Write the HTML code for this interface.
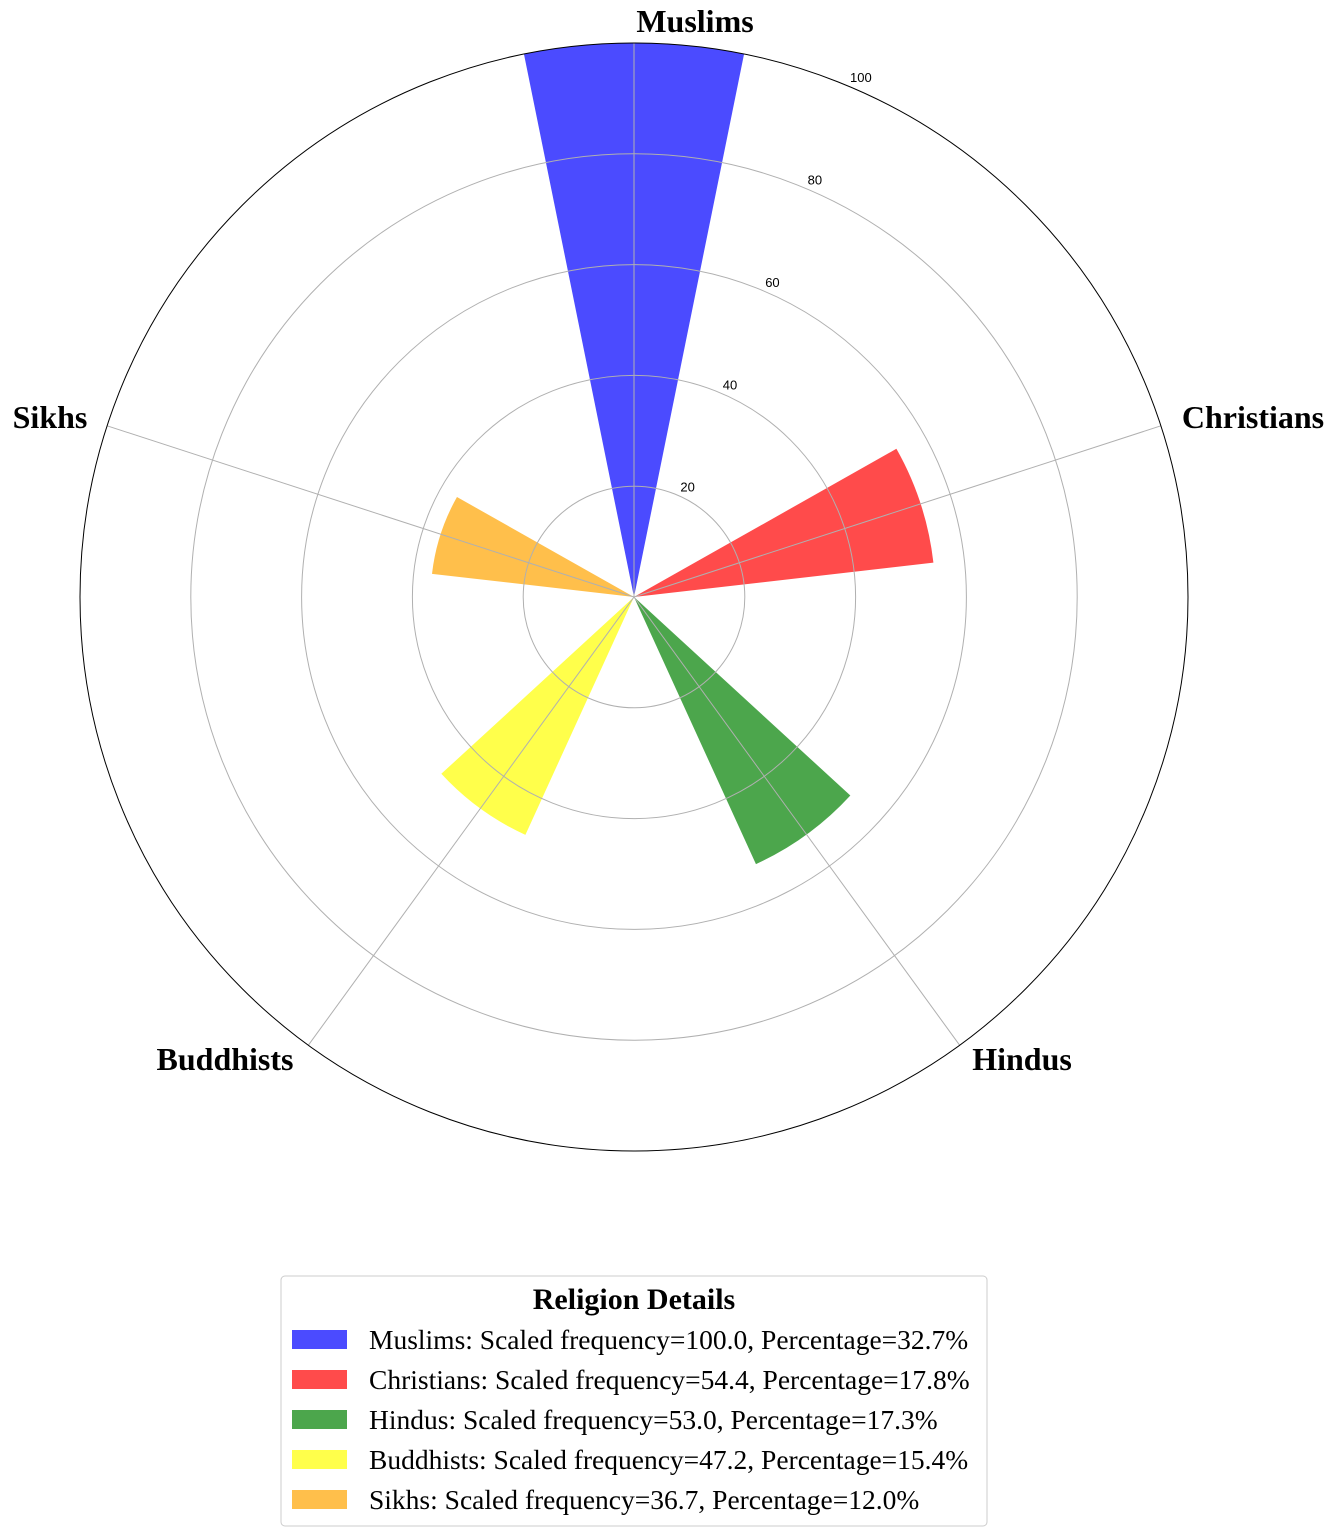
<!DOCTYPE html>
<html><head><meta charset="utf-8"><style>
body{margin:0;background:#fff}
svg{display:block}
text{font-family:"Liberation Serif",serif}
text.tick{font-family:"Liberation Sans",sans-serif}
</style></head><body>
<svg id="c" width="1337" height="1536" viewBox="0 0 1337 1536">
<g id="bars"></g>
<g id="grid"></g>
<g id="labels"></g>
<g id="legend">
<rect x="281" y="1276" width="706" height="250" rx="4" fill="#fff" stroke="#ccc"/>
<text x="634" y="1309" text-anchor="middle" font-size="30" font-weight="bold">Religion Details</text>
</g>
</svg>
<script>
const categories=["Muslims","Christians","Hindus","Buddhists","Sikhs"];
const values=[100.0,54.4,53.0,47.2,36.7];
const percents=[32.7,17.8,17.3,15.4,12.0];
const colors=["#4b4bff","#ff4b4b","#4ca64c","#ffff4b","#ffbf4b"];
const rTicks=[20,40,60,80,100];
const labelPos=[[695,32],[1253,428],[1022,1070],[225,1070],[50,428]];
const NS="http://www.w3.org/2000/svg";
const cx=634,cy=597,R=554,rmax=100,width=0.4;
function rs(v){return v/rmax*R;}
function ang(i){return i*2*Math.PI/categories.length;}
function pt(a,r){return [cx+r*Math.sin(a),cy-r*Math.cos(a)];}
function mk(t,at,p){const e=document.createElementNS(NS,t);for(const k in at)e.setAttribute(k,at[k]);p.appendChild(e);return e;}
const bars=document.getElementById('bars'),grid=document.getElementById('grid'),labels=document.getElementById('labels'),legend=document.getElementById('legend');
categories.forEach((c,i)=>{
 const a=ang(i),r=rs(values[i]);
 const p1=pt(a-width/2,r),p2=pt(a+width/2,r);
 const e=mk('path',{d:`M${cx},${cy}L${p1[0]},${p1[1]}A${r},${r} 0 0 1 ${p2[0]},${p2[1]}Z`,fill:colors[i]},bars);
 
 
});
rTicks.forEach(t=>{
 if(t<rmax){const e=mk('circle',{cx:cx,cy:cy,r:rs(t),fill:'none',stroke:'#b0b0b0','stroke-width':1},grid);
 
 }
 const p=pt(22.5*Math.PI/180,rs(t));
 const tx=mk('text',{x:p[0]+4,y:p[1]-3,'font-size':13,'class':'tick'},grid);
 tx.textContent=t;
 
 
});
categories.forEach((c,i)=>{
 const p=pt(ang(i),R);
 const e=mk('line',{x1:cx,y1:cy,x2:p[0],y2:p[1],stroke:'#b0b0b0','stroke-width':1},grid);
 
 
 const t=mk('text',{x:labelPos[i][0],y:labelPos[i][1],'text-anchor':'middle','font-size':32,'font-weight':'bold'},labels);
 t.textContent=c;
 
 
});
const oc=mk('circle',{cx:cx,cy:cy,r:R,fill:'none',stroke:'#000','stroke-width':1},grid);


categories.forEach((c,i)=>{
 const y=1330+i*40;
 const r=mk('rect',{x:292,y:y,width:55,height:19,fill:colors[i]},legend);
 
 
 const t=mk('text',{x:369,y:y+19,'font-size':27.5},legend);
 t.textContent=`${c}: Scaled frequency=${values[i].toFixed(1)}, Percentage=${percents[i].toFixed(1)}%`;
 
 
});
</script>
</body></html>
